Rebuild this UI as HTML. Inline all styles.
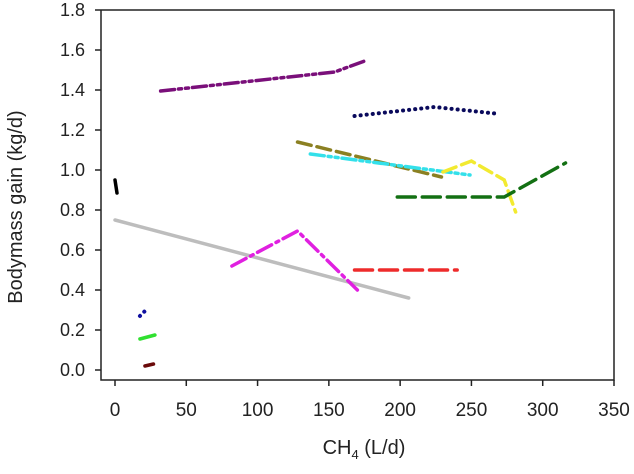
<!DOCTYPE html>
<html><head><meta charset="utf-8"><style>
body{margin:0;background:#fff}
svg text{font-family:"Liberation Sans",Arial,sans-serif;fill:#222}
</style></head><body>
<svg id="c" width="634" height="469"></svg>
<script>
const xTicks=[0,50,100,150,200,250,300,350];
const yTicks=[0.0,0.2,0.4,0.6,0.8,1.0,1.2,1.4,1.6,1.8];
const s1x=[32,154,177],s1y=[1.395,1.49,1.55];
const s2x=[168,224,270],s2y=[1.27,1.315,1.28];
const s3x=[128,229],s3y=[1.14,0.965];
const s4x=[137,249],s4y=[1.08,0.975];
const s5x=[230,250,273,281],s5y=[0.99,1.045,0.95,0.79];
const s6x=[198,273,316],s6y=[0.865,0.865,1.035];
const s7x=[0,1.4],s7y=[0.95,0.885];
const s8x=[0,206],s8y=[0.75,0.36];
const s9x=[82,128,170],s9y=[0.52,0.695,0.40];
const s10x=[168,240],s10y=[0.5,0.5];
const s11x=[17.5,22.4],s11y=[0.27,0.305];
const s12x=[17.5,28],s12y=[0.155,0.175];
const s13x=[21,27],s13y=[0.02,0.03];
const series=[
 [s1x,s1y,'#7a0f7a','14 4 3 4 3 4','purple-series'],
 [s2x,s2y,'#0a0a5c','0.1 6','navy-series'],
 [s3x,s3y,'#8b8022','14 6','olive-series'],
 [s4x,s4y,'#33e0ea','14 4 3 4 3 4','cyan-series'],
 [s5x,s5y,'#f2ea30','14 6','yellow-series'],
 [s6x,s6y,'#137013','18 7','green-series'],
 [s7x,s7y,'#000','','black-series'],
 [s8x,s8y,'#bdbdbd','','gray-series'],
 [s9x,s9y,'#e020e0','16 5 3 5','magenta-series'],
 [s10x,s10y,'#ee2b2b','18 7','red-series'],
 [s11x,s11y,'#1010a0','0.1 6','blue-series'],
 [s12x,s12y,'#30e030','','lime-series'],
 [s13x,s13y,'#6a0a0a','','darkred-series']];
const X=v=>115+v*(499/350), Y=v=>370-v*200;
const svg=document.getElementById('c');const NS='http://www.w3.org/2000/svg';
function mk(t,a,p){const e=document.createElementNS(NS,t);for(const k in a)e.setAttribute(k,a[k]);(p||svg).appendChild(e);return e;}
const ax=mk('path',{d:'M101 10V380H614V10H101',fill:'none',stroke:'#222','stroke-width':1.5});

xTicks.forEach(v=>{const l=mk('line',{x1:X(v),x2:X(v),y1:380,y2:386,stroke:'#222','stroke-width':1.5});

const t=mk('text',{x:X(v),y:416,'text-anchor':'middle','font-size':19});t.textContent=v;
});
yTicks.forEach(v=>{const l=mk('line',{x1:95,x2:101,y1:Y(v),y2:Y(v),stroke:'#222','stroke-width':1.5});

const t=mk('text',{x:85,y:Y(v)+6,'text-anchor':'end','font-size':18});t.textContent=v.toFixed(1);
});
series.forEach(s=>{const d=s[0].map((x,i)=>(i?'L':'M')+X(x)+' '+Y(s[1][i])).join('');
const p=mk('path',{d:d,fill:'none',stroke:s[2],'stroke-width':s[3]==='0.1 6'?4:3.5,'stroke-linecap':'round','stroke-dasharray':s[3]});
});
const xt=mk('text',{x:364,y:454,'text-anchor':'middle','font-size':20});
xt.innerHTML='CH<tspan font-size="13" dy="5">4</tspan><tspan dy="-5"> (L/d)</tspan>';

const yt=mk('text',{x:0,y:0,'text-anchor':'middle','font-size':20,transform:'translate(22,207) rotate(-90)'});
yt.textContent='Bodymass gain (kg/d)';

</script></body></html>
